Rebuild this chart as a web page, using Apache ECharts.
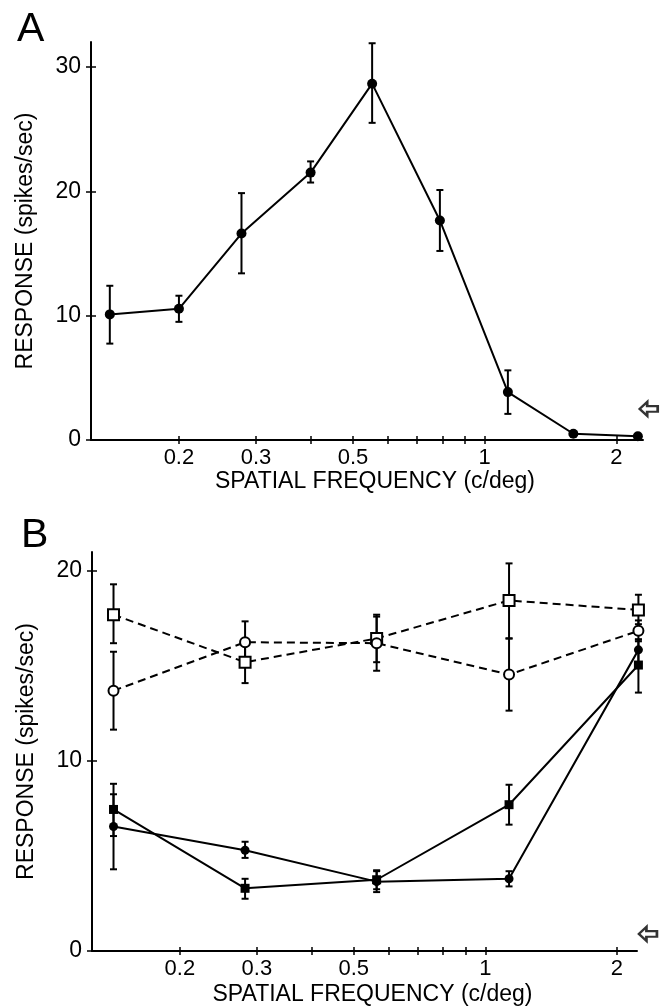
<!DOCTYPE html>
<html><head><meta charset="utf-8">
<script src="https://cdn.jsdelivr.net/npm/echarts@6/dist/echarts.min.js"></script>
<style>html,body{margin:0;padding:0;background:#fff}#c{width:670px;height:1007px}</style>
</head><body><div id="c"></div>
<script>
// ---- tick values ----
const freqTicks = [0.2, 0.3, 0.4, 0.5, 0.6, 0.7, 0.8, 0.9, 1, 2];
const freqLabels = [0.2, 0.3, 0.5, 1, 2];
const yTicksA = [0, 10, 20, 30];
const yTicksB = [0, 10, 20];

// ---- Panel A data ----
const freqA = [0.139, 0.2, 0.278, 0.4, 0.553, 0.79, 1.13, 1.595, 2.24];
const respA = [10.1, 10.55, 16.6, 21.5, 28.65, 17.65, 3.85, 0.5, 0.3];
const loA   = [7.75, 9.5, 13.4, 20.7, 25.5, 15.2, 2.1, null, null];
const hiA   = [12.4, 11.6, 19.85, 22.4, 31.9, 20.1, 5.6, null, null];
const spontA = 2.5;

// ---- Panel B data ----
const freqB = [0.141, 0.282, 0.564, 1.133, 2.24];
const openSq   = [17.7, 15.2, 16.45, 18.45, 17.95];
const openSqLo = [16.2, 14.1, 15.2, 16.45, 17.2];
const openSqHi = [19.3, 16.3, 17.7, 20.4, 18.75];
const openCi   = [13.7, 16.25, 16.2, 14.55, 16.85];
const openCiLo = [11.65, 15.2, 14.75, 12.65, 16.3];
const openCiHi = [15.75, 17.35, 17.6, 16.45, 17.4];
const fillCi   = [6.55, 5.3, 3.65, 3.8, 15.85];
const fillCiLo = [4.3, 4.9, 3.1, 3.4, 15.2];
const fillCiHi = [8.25, 5.75, 4.2, 4.2, 16.4];
const fillSq   = [7.45, 3.3, 3.75, 7.7, 15.05];
const fillSqLo = [6.05, 2.75, 3.25, 6.65, 13.6];
const fillSqHi = [8.8, 3.8, 4.25, 8.75, 16.4];
const spontB = 0.9;

const lg = v => Math.log10(v);
const FONT = 'Liberation Sans';
const XMIN = -0.9, XMAX_A = 0.362, XMAX_B = 0.347;

function fmtFreq(v) {
  const f = Math.pow(10, v);
  const hit = freqLabels.find(t => Math.abs(t - f) < 1e-6);
  return hit === undefined ? '' : String(hit);
}

function xMain(grid, max, gap) {
  return {
    type: 'value', gridIndex: grid, position: 'bottom', min: XMIN, max: max,
    axisLine: { show: true, onZero: false, lineStyle: { color: '#000', width: 2 } },
    axisTick: { show: true, length: 4, lineStyle: { color: '#000', width: 1.5 }, customValues: freqTicks.map(lg) },
    axisLabel: { customValues: freqLabels.map(lg), formatter: fmtFreq, fontSize: 22, color: '#000', margin: 7, fontFamily: FONT },
    splitLine: { show: false },
    name: 'SPATIAL FREQUENCY (c/deg)', nameLocation: 'middle', nameGap: gap,
    nameTextStyle: { fontSize: 23, color: '#000', fontFamily: FONT, verticalAlign: 'top', padding: [0, 0, 0, 16] }
  };
}
function xInner(grid, max) {
  return {
    type: 'value', gridIndex: grid, position: 'bottom', min: XMIN, max: max,
    axisLine: { show: false, onZero: false },
    axisTick: { show: true, inside: true, length: 4, lineStyle: { color: '#000', width: 1.5 }, customValues: freqTicks.map(lg) },
    axisLabel: { show: false }, splitLine: { show: false }
  };
}
function yMain(grid, max, ticks) {
  return {
    type: 'value', gridIndex: grid, position: 'left', min: 0, max: max,
    axisLine: { show: true, onZero: false, lineStyle: { color: '#000', width: 2 } },
    axisTick: { show: true, length: 5, lineStyle: { color: '#000', width: 1.5 }, customValues: ticks },
    axisLabel: { customValues: ticks, fontSize: 23, color: '#000', margin: 10, fontFamily: FONT },
    splitLine: { show: false },
    name: 'RESPONSE (spikes/sec)', nameLocation: 'middle', nameGap: 54,
    nameTextStyle: { fontSize: 23, color: '#000', fontFamily: FONT }
  };
}
function yInner(grid, max, ticks) {
  return {
    type: 'value', gridIndex: grid, position: 'left', min: 0, max: max,
    axisLine: { show: false, onZero: false },
    axisTick: { show: true, inside: true, length: 5, lineStyle: { color: '#000', width: 1.5 }, customValues: ticks },
    axisLabel: { show: false }, splitLine: { show: false }
  };
}

function errRender(params, api) {
  const x = api.value(0), lo = api.value(1), hi = api.value(2);
  const p1 = api.coord([x, hi]), p2 = api.coord([x, lo]);
  const w = 3.5;
  const style = { stroke: '#000', lineWidth: 2 };
  return { type: 'group', children: [
    { type: 'line', shape: { x1: p1[0], y1: p1[1], x2: p2[0], y2: p2[1] }, style: style },
    { type: 'line', shape: { x1: p1[0] - w, y1: p1[1], x2: p1[0] + w, y2: p1[1] }, style: style },
    { type: 'line', shape: { x1: p2[0] - w, y1: p2[1], x2: p2[0] + w, y2: p2[1] }, style: style }
  ] };
}
function errData(freq, lo, hi) {
  const out = [];
  freq.forEach((f, i) => { if (lo[i] != null && hi[i] != null) out.push([lg(f), lo[i], hi[i]]); });
  return out;
}
function errSeries(xi, yi, data) {
  return { type: 'custom', xAxisIndex: xi, yAxisIndex: yi, coordinateSystem: 'cartesian2d', clip: false,
    renderItem: errRender, data: data, encode: { x: 0, y: [1, 2] }, z: 1, silent: true };
}
function lineSeries(xi, yi, freq, vals, symbol, size, filled, dashed) {
  return {
    type: 'line', xAxisIndex: xi, yAxisIndex: yi, z: 3, clip: false,
    data: freq.map((f, i) => [lg(f), vals[i]]),
    symbol: symbol, symbolSize: size, showAllSymbol: true,
    itemStyle: { color: filled ? '#000' : '#fff', borderColor: '#000', borderWidth: filled ? 0 : 2 },
    lineStyle: { color: '#000', width: 2, type: dashed ? [8, 5] : 'solid' },
    emphasis: { disabled: true }
  };
}
const arrowPath = 'path://M0,5 L5,0 L5,3 L12,3 L12,7 L5,7 L5,10 Z';
function arrowSeries(xi, yi, xv, val) {
  return { type: 'scatter', xAxisIndex: xi, yAxisIndex: yi, clip: false, z: 4,
    data: [[xv, val]], symbol: arrowPath, symbolSize: [18, 14], symbolKeepAspect: false,
    itemStyle: { color: '#fff', borderColor: '#000', borderWidth: 2.4 } };
}

const chart = echarts.init(document.getElementById('c'), null, { renderer: 'canvas' });
chart.setOption({
  animation: false,
  backgroundColor: '#fff',
  grid: [
    { left: 91, top: 42, width: 552, height: 398 },
    { left: 92, top: 552, width: 545, height: 400 }
  ],
  xAxis: [ xMain(0, XMAX_A, 30), xInner(0, XMAX_A), xMain(1, XMAX_B, 32), xInner(1, XMAX_B) ],
  yAxis: [ yMain(0, 32, yTicksA), yInner(0, 32, yTicksA), yMain(1, 21, yTicksB), yInner(1, 21, yTicksB) ],
  graphic: [
    { type: 'text', left: 17, top: 9, style: { text: 'A', font: '41px "Liberation Sans"', fill: '#000' } },
    { type: 'text', left: 21, top: 515, style: { text: 'B', font: '41px "Liberation Sans"', fill: '#000' } }
  ],
  series: [
    errSeries(0, 0, errData(freqA, loA, hiA)),
    lineSeries(0, 0, freqA, respA, 'circle', 10, true, false),
    arrowSeries(0, 0, XMAX_A + 0.013, spontA),

    errSeries(2, 2, errData(freqB, openSqLo, openSqHi)),
    errSeries(2, 2, errData(freqB, openCiLo, openCiHi)),
    errSeries(2, 2, errData(freqB, fillCiLo, fillCiHi)),
    errSeries(2, 2, errData(freqB, fillSqLo, fillSqHi)),
    lineSeries(2, 2, freqB, openSq, 'rect', 11, false, true),
    lineSeries(2, 2, freqB, openCi, 'circle', 10, false, true),
    lineSeries(2, 2, freqB, fillCi, 'circle', 9, true, false),
    lineSeries(2, 2, freqB, fillSq, 'rect', 9, true, false),
    arrowSeries(2, 2, XMAX_B + 0.025, spontB)
  ]
});
</script></body></html>
